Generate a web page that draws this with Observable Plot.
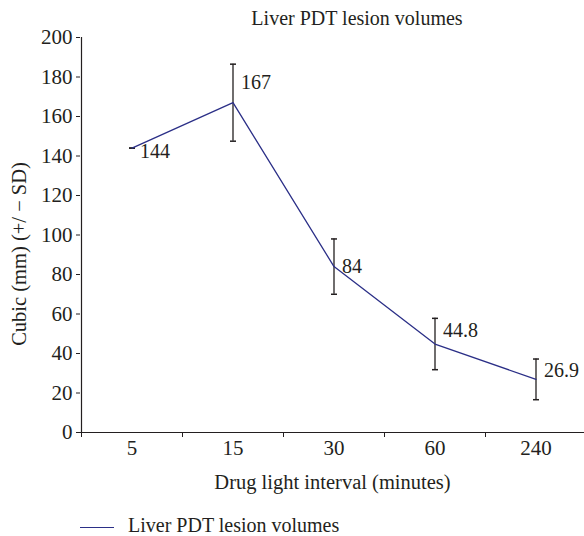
<!DOCTYPE html>
<html>
<head>
<meta charset="utf-8">
<script src="https://cdn.jsdelivr.net/npm/d3@7"></script>
<script src="https://cdn.jsdelivr.net/npm/@observablehq/plot@0.6"></script>
<style>
  html, body { margin: 0; padding: 0; background: #fff; }
  body { width: 584px; height: 536px; overflow: hidden; font-family: 'Liberation Serif', 'Times New Roman', 'DejaVu Serif', serif; color: #231f20; }
  #title { height: 32px; line-height: 36px; font-size: 20px; text-align: center; padding-left: 130px; box-sizing: border-box; width: 584px; }
  #legend { position: relative; height: 34px; width: 584px; }
  #legend .sw { position: absolute; left: 80px; top: 25px; width: 34px; height: 0; border-top: 1.4px solid #2b2f87; }
  #legend .lb { position: absolute; left: 128px; top: 12px; font-size: 20px; line-height: 22px; }
</style>
</head>
<body>
<div id="title">Liver PDT lesion volumes</div>
<div id="chart"></div>
<div id="legend"><div class="sw"></div><div class="lb">Liver PDT lesion volumes</div></div>
<script>
// Data
const intervals = ["5", "15", "30", "60", "240"];
const volumes = [144, 167, 84, 44.8, 26.9];
const sds = [0, 19.5, 14, 13, 10.3];
const yTicks = [0, 20, 40, 60, 80, 100, 120, 140, 160, 180, 200];
const seriesName = "Liver PDT lesion volumes";
const xTitle = "Drug light interval (minutes)";
const yTitle = "Cubic (mm) (+/ − SD)";

// Label nudges (style)
const labelDy = [3, -20, 0, -13, -9];

const data = intervals.map((c, i) => ({i, c, v: volumes[i], sd: sds[i]}));
const boundaries = d3.range(intervals.length + 1).map(i => i - 0.5);
const lineColor = "#2b2f87";
const ink = "#231f20";
const serif = "'Liberation Serif', 'Times New Roman', 'DejaVu Serif', serif";

const capSymbol = { draw(ctx) { ctx.moveTo(-3, 0); ctx.lineTo(3, 0); } };

const marks = [
  Plot.axisY({ticks: yTicks, tickSize: 4, tickPadding: 4, fontSize: 21, label: null, stroke: ink, fill: ink}),
  Plot.axisX({ticks: boundaries, tickSize: 5, tickFormat: () => "", label: null, stroke: ink}),
  Plot.axisX({ticks: data.map(d => d.i), tickSize: 0, tickPadding: 8, tickFormat: i => intervals[i], fontSize: 21, label: null, fill: ink}),
  Plot.ruleY([0], {stroke: ink, strokeWidth: 1.2}),
  Plot.ruleX([boundaries[0]], {stroke: ink, strokeWidth: 1.2}),
  Plot.ruleX(data, {x: "i", y1: d => d.v - d.sd, y2: d => d.v + d.sd, stroke: ink, strokeWidth: 1.3}),
  Plot.dot(data, {x: "i", y: d => d.v + d.sd, symbol: capSymbol, stroke: ink, strokeWidth: 1.5}),
  Plot.dot(data, {x: "i", y: d => d.v - d.sd, symbol: capSymbol, stroke: ink, strokeWidth: 1.5}),
  Plot.line(data, {x: "i", y: "v", stroke: lineColor, strokeWidth: 1.3}),
  ...data.map((d, k) => Plot.text([d], {x: "i", y: "v", text: d => String(d.v), textAnchor: "start", dx: 8, dy: labelDy[k], fontSize: 20, fill: ink})),
  Plot.text([xTitle], {frameAnchor: "bottom", textAnchor: "middle", dy: 50, fontSize: 20.5, fill: ink, lineAnchor: "middle"}),
  Plot.text([yTitle], {frameAnchor: "left", textAnchor: "middle", rotate: -90, dx: -61, dy: 19, fontSize: 20.5, fill: ink, lineAnchor: "middle"})
];

const chart = Plot.plot({
  width: 584,
  height: 470,
  marginTop: 5,
  marginBottom: 70,
  marginLeft: 80,
  marginRight: 0,
  style: {fontFamily: serif, fontSize: "20px", color: ink, background: "#fff", overflow: "visible"},
  x: {domain: [boundaries[0], boundaries[boundaries.length - 1]], range: [81, 586]},
  y: {domain: [0, 200]},
  marks
});
document.getElementById("chart").appendChild(chart);
</script>
</body>
</html>
